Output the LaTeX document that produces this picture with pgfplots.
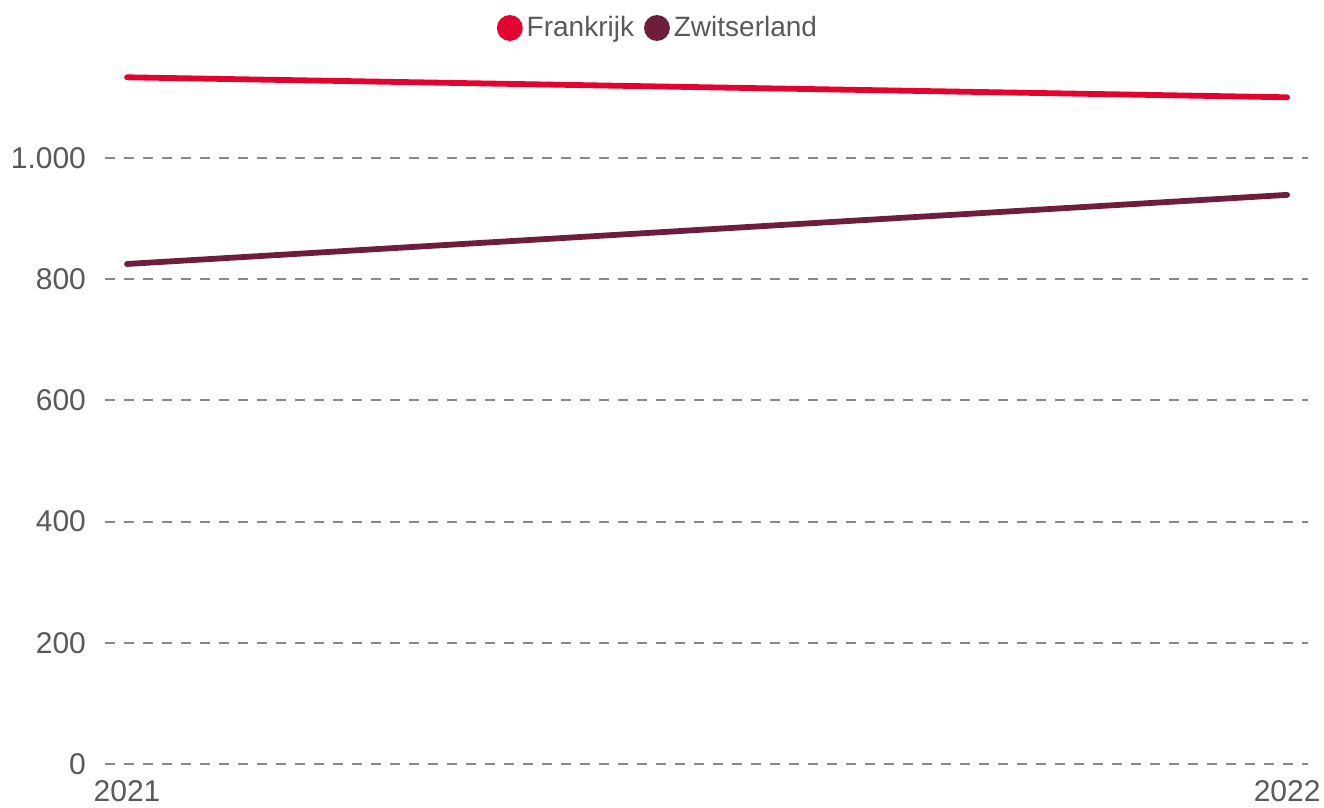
\documentclass[border=0pt]{standalone}
\usepackage{fontspec}
\setmainfont{Liberation Sans}
\usepackage{pgfplots}
\pgfplotsset{compat=1.18}

\definecolor{fr}{HTML}{E4032E}
\definecolor{ch}{HTML}{6E1E3C}
\definecolor{txt}{HTML}{595959}
\definecolor{gridc}{HTML}{888888}

\begin{document}
\begin{tikzpicture}
\path[use as bounding box] (0,0) rectangle (662pt,404pt);
\begin{axis}[
    at={(52.5pt,22pt)}, anchor=south west,
    scale only axis,
    width=601.5pt, height=348.5pt,
    xmin=2020.981, xmax=2022.018,
    ymin=0, ymax=1150,
    xtick={2021,2022},
    xticklabels={2021,2022},
    ytick={0,200,...,1000},
    ymajorgrids,
    grid style={gridc, line width=1pt, dash pattern=on 5pt off 4.5pt},
    axis line style={draw=none},
    major tick length=0pt,
    tick label style={font=\fontsize{15}{18}\selectfont, text=txt},
    xticklabel style={yshift=-4.5pt},
    yticklabel style={xshift=-6pt},
    /pgf/number format/.cd, 1000 sep={.}, assume math mode=true,
    /pgfplots/.cd,
    clip=false,
    legend columns=-1,
    legend style={draw=none, fill=none, at={(0.4605,1)}, anchor=center,
        yshift=19.5pt, font=\fontsize{14}{16}\selectfont, text=txt,
        /tikz/every even column/.append style={column sep=3pt}},
    legend image code/.code={\fill (0.1cm,0cm) circle (5pt);},
]
\addplot[color=fr, line width=2.9pt, line cap=round] coordinates {(2021,1133) (2022,1100)};
\addlegendentry{Frankrijk}
\addplot[color=ch, line width=2.9pt, line cap=round] coordinates {(2021,825) (2022,939)};
\addlegendentry{Zwitserland}
\end{axis}
\end{tikzpicture}
\end{document}
